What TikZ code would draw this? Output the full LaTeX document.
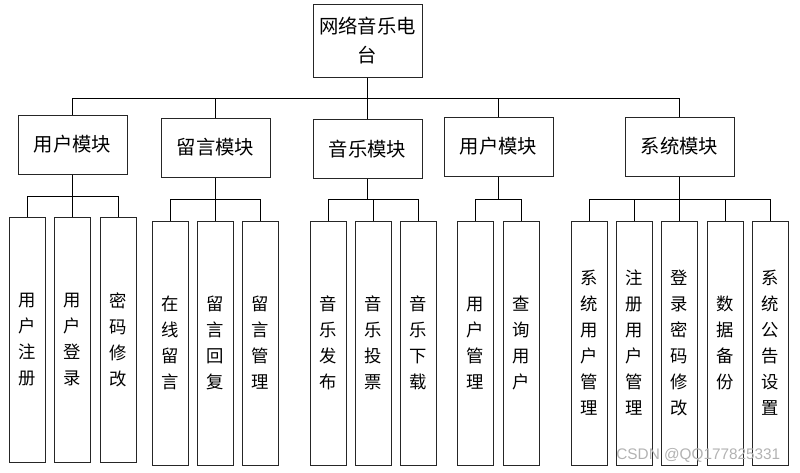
\documentclass[tikz,border=0pt]{standalone}
\usepackage{fontspec}
\newfontfamily\cjk{Noto Sans CJK SC}
\newfontfamily\wmfont{Liberation Sans}

\begin{document}
\begin{tikzpicture}[
    x=0.75pt,
    y=-0.75pt,
    box/.style={rectangle, draw=black!85, line width=0.75pt, align=center, inner sep=0pt},
    top/.style={box, minimum width=81.75pt, minimum height=54.75pt, font=\cjk\fontsize{14.5}{21.75}\selectfont},
    module/.style={box, minimum width=81.75pt, minimum height=44.25pt, font=\cjk\fontsize{14.5}{18}\selectfont},
    leaf/.style={box, minimum width=27pt, minimum height=183pt, font=\cjk\fontsize{13}{19.5}\selectfont},
    link/.style={draw=black, line width=0.75pt}
]

\useasboundingbox (0,0) rectangle (800,472);

% Root
\node[top] (platform) at (367.5,40.5) {网络音乐电\\台};

% Modules
\node[module] (user_mod) at (72.5,144.5) {用户模块};
\node[module] (msg_mod) at (215.5,147.5) {留言模块};
\node[module] (music_mod) at (367.5,149) {音乐模块};
\node[module] (manage_mod) at (498.5,146.5) {用户模块};
\node[module] (sys_mod) at (679.5,146.5) {系统模块};

% User leaves
\node[leaf, minimum height=183.75pt] (user_reg) at (27,339.5) {用\\户\\注\\册};
\node[leaf, minimum height=183.75pt] (user_login) at (72.5,339.5) {用\\户\\登\\录};
\node[leaf, minimum height=183.75pt] (pwd_edit) at (118,339.5) {密\\码\\修\\改};

% Message leaves
\node[leaf] (msg_online) at (170,343) {在\\线\\留\\言};
\node[leaf] (msg_reply) at (215.5,343) {留\\言\\回\\复};
\node[leaf] (msg_admin) at (260,343) {留\\言\\管\\理};

% Music leaves
\node[leaf] (music_pub) at (328,343) {音\\乐\\发\\布};
\node[leaf] (music_vote) at (373,343) {音\\乐\\投\\票};
\node[leaf] (music_down) at (418,343) {音\\乐\\下\\载};

% Management leaves
\node[leaf] (user_admin) at (475,343) {用\\户\\管\\理};
\node[leaf] (user_query) at (521,343) {查\\询\\用\\户};

% System leaves
\node[leaf] (sys_user) at (589,343) {系\\统\\用\\户\\管\\理};
\node[leaf] (reg_user) at (634,343) {注\\册\\用\\户\\管\\理};
\node[leaf] (login_pwd) at (679.5,343) {登\\录\\密\\码\\修\\改};
\node[leaf] (data_backup) at (725,343) {数\\据\\备\\份};
\node[leaf] (sys_notice) at (770,343) {系\\统\\公\\告\\设\\置};

% Bus points
\coordinate (bus_top) at (367.5,98);
\coordinate (bus_user) at (72.5,196);
\coordinate (bus_msg) at (215.5,199);
\coordinate (bus_music) at (367.5,199);
\coordinate (bus_manage) at (498.5,199);
\coordinate (bus_sys) at (679.5,199);

% Root to modules
\draw[link] (platform.south) -- (bus_top);
\draw[link] (bus_top) -| (user_mod.north);
\draw[link] (bus_top) -| (msg_mod.north);
\draw[link] (bus_top) -- (music_mod.north);
\draw[link] (bus_top) -| (manage_mod.north);
\draw[link] (bus_top) -| (sys_mod.north);

% Modules to leaves
\draw[link] (user_mod.south) -- (bus_user);
\draw[link] (bus_user) -| (user_reg.north);
\draw[link] (bus_user) -- (user_login.north);
\draw[link] (bus_user) -| (pwd_edit.north);

\draw[link] (msg_mod.south) -- (bus_msg);
\draw[link] (bus_msg) -| (msg_online.north);
\draw[link] (bus_msg) -- (msg_reply.north);
\draw[link] (bus_msg) -| (msg_admin.north);

\draw[link] (music_mod.south) -- (bus_music);
\draw[link] (bus_music) -| (music_pub.north);
\draw[link] (bus_music) -| (music_vote.north);
\draw[link] (bus_music) -| (music_down.north);

\draw[link] (manage_mod.south) -- (bus_manage);
\draw[link] (bus_manage) -| (user_admin.north);
\draw[link] (bus_manage) -| (user_query.north);

\draw[link] (sys_mod.south) -- (bus_sys);
\draw[link] (bus_sys) -| (sys_user.north);
\draw[link] (bus_sys) -| (reg_user.north);
\draw[link] (bus_sys) -- (login_pwd.north);
\draw[link] (bus_sys) -| (data_backup.north);
\draw[link] (bus_sys) -| (sys_notice.north);

% Watermark
\node[text=black!30, font=\wmfont\fontsize{11.5}{12}\selectfont, anchor=east] (watermark) at (785,455) {CSDN @QQ177825331};

\end{tikzpicture}
\end{document}
